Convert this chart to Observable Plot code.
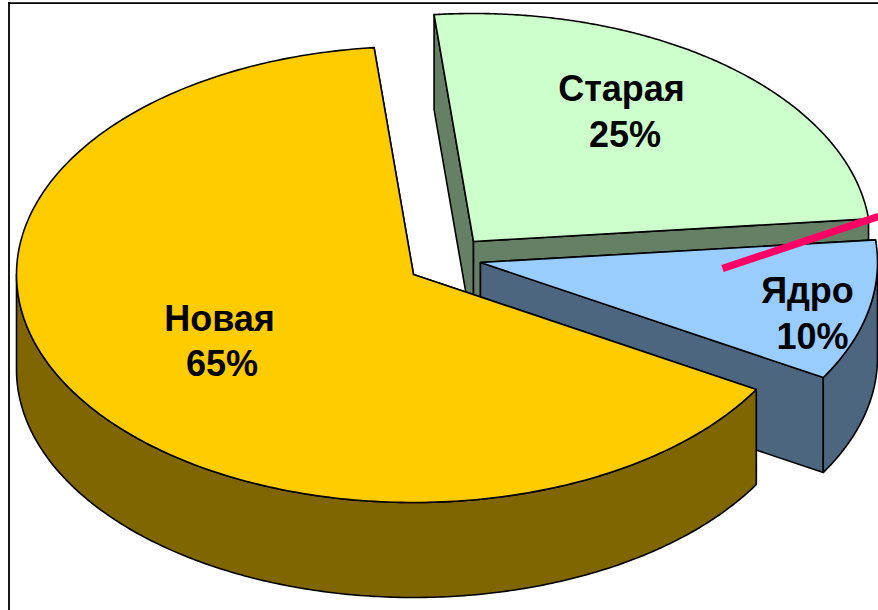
<!DOCTYPE html>
<html>
<head>
<meta charset="utf-8">
<script src="https://cdn.jsdelivr.net/npm/d3@7"></script>
<script src="https://cdn.jsdelivr.net/npm/@observablehq/plot@0.6"></script>
<style>
html,body{margin:0;padding:0;background:#fff;overflow:hidden}
svg{display:block}
</style>
</head>
<body>
<script>
// Data
const categories = ["Ядро", "Новая", "Старая"];
const shares = [10, 65, 25];
const pointerX = [722, 878];
const pointerY = [268, 216];

// Styles and layout, separate from the data
const topColors = {"Ядро": "#99CCFF", "Новая": "#FFCC00", "Старая": "#CCFFCC"};
const wallColors = {"Ядро": "#4D6680", "Новая": "#806600", "Старая": "#668066"};
const apex = {"Ядро": [480, 262], "Новая": [413, 274], "Старая": [473, 241]};
const nameAt = {"Ядро": [807, 291], "Новая": [219, 319], "Старая": [621, 89]};
const shareAt = {"Ядро": [812, 337], "Новая": [221.5, 364], "Старая": [624.5, 135]};
const drawOrder = ["Старая", "Ядро", "Новая"];
const rx = 397, ry = 228, depth = 95, firstAngle = 84.3;

// Slice geometry: angles come from the shares
const total = d3.sum(shares);
let running = firstAngle;
const angles = {};
categories.forEach((c, i) => {
  const a0 = running; running += shares[i] / total * 360;
  angles[c] = [a0, running];
});
const rim = (c, a, dy = 0) => {
  const t = a * Math.PI / 180;
  return {x: apex[c][0] + rx * Math.sin(t), y: apex[c][1] - ry * Math.cos(t) + dy};
};
const arc = (c, a0, a1, dy = 0) => d3.range(0, 241).map(i => rim(c, a0 + (a1 - a0) * i / 240, dy));
const point = (c, dy = 0) => ({x: apex[c][0], y: apex[c][1] + dy});

const polygon = (pts, fill) => Plot.line(pts, {
  x: "x", y: "y", fill, stroke: "#000", strokeWidth: 1.6,
  curve: "linear-closed", strokeLinejoin: "round"
});

const sliceMarks = drawOrder.flatMap(c => {
  const [a0, a1] = angles[c];
  const marks = [
    polygon([point(c), rim(c, a0), rim(c, a0, depth), point(c, depth)], wallColors[c]),
    polygon([point(c), rim(c, a1), rim(c, a1, depth), point(c, depth)], wallColors[c])
  ];
  // Only the front half of the rim shows a wall
  const f0 = Math.max(a0, 90), f1 = Math.min(a1, 270);
  if (f1 > f0) {
    marks.push(polygon([...arc(c, f0, f1), ...arc(c, f0, f1, depth).reverse()], wallColors[c]));
  }
  marks.push(polygon([point(c), ...arc(c, a0, a1)], topColors[c]));
  return marks;
});

const names = categories.map(c => ({text: c, x: nameAt[c][0], y: nameAt[c][1]}));
const percents = categories.map((c, i) => ({text: `${shares[i]}%`, x: shareAt[c][0], y: shareAt[c][1]}));
const labelStyle = {
  x: "x", y: "y", text: "text",
  fontFamily: "Liberation Sans", fontWeight: "bold", fontSize: 36,
  fill: "#000", stroke: null
};

const chart = Plot.plot({
  width: 878, height: 610,
  margin: 0,
  x: {domain: [0, 878], range: [0, 878], axis: null},
  y: {domain: [0, 610], range: [0, 610], axis: null},
  style: {background: "#fff"},
  marks: [
    Plot.ruleY([2.7], {x1: 8, x2: 878, stroke: "#000", strokeWidth: 1.8}),
    Plot.ruleX([8.5], {y1: 2, y2: 610, stroke: "#000", strokeWidth: 1.8}),
    ...sliceMarks,
    Plot.line(pointerX.map((x, i) => ({x, y: pointerY[i]})), {
      x: "x", y: "y", stroke: "#FF0066", strokeWidth: 7.5, strokeLinecap: "butt"
    }),
    Plot.text(names, labelStyle),
    Plot.text(percents, labelStyle)
  ]
});
document.body.appendChild(chart);
</script>
</body>
</html>
